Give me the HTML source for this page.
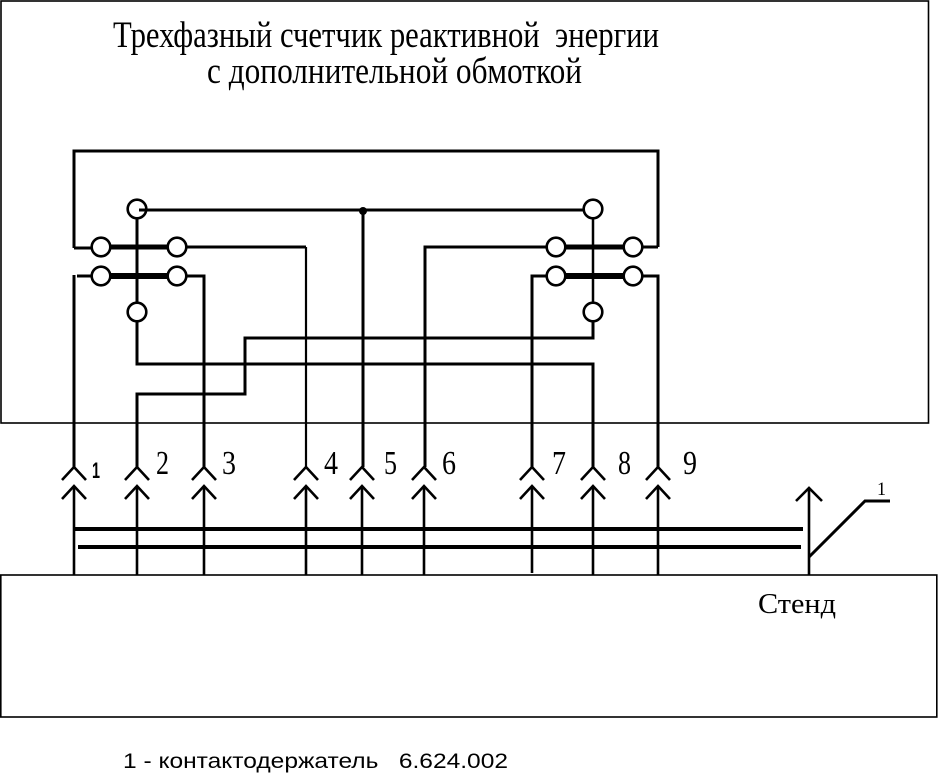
<!DOCTYPE html>
<html><head><meta charset="utf-8"><style>
html,body{margin:0;padding:0;background:#fff;}
svg{display:block;}
text{white-space:pre;}
</style></head><body>
<svg width="938" height="775" viewBox="0 0 938 775" xmlns="http://www.w3.org/2000/svg">
<rect x="0" y="0" width="938" height="775" fill="#fff"/>
<!-- top box -->
<rect x="1" y="1" width="927.5" height="422" fill="none" stroke="#000" stroke-width="1.6"/>
<!-- bottom stand box -->
<rect x="0.8" y="575" width="936" height="142" fill="none" stroke="#000" stroke-width="1.6"/>

<g font-family="'Liberation Serif', 'Noto Serif CJK SC', serif" fill="#000">
<text x="113" y="47" font-size="37" textLength="546" lengthAdjust="spacingAndGlyphs">Трехфазный счетчик реактивной  энергии</text>
<text x="207" y="83" font-size="37" textLength="375" lengthAdjust="spacingAndGlyphs">с дополнительной обмоткой</text>
<text x="156" y="474" font-size="34" textLength="13" lengthAdjust="spacingAndGlyphs">2</text>
<text x="222" y="474" font-size="34" textLength="14" lengthAdjust="spacingAndGlyphs">3</text>
<text x="324" y="474" font-size="34" textLength="14" lengthAdjust="spacingAndGlyphs">4</text>
<text x="384" y="474" font-size="34" textLength="13" lengthAdjust="spacingAndGlyphs">5</text>
<text x="442" y="474" font-size="34" textLength="14" lengthAdjust="spacingAndGlyphs">6</text>
<text x="552" y="474" font-size="34" textLength="14" lengthAdjust="spacingAndGlyphs">7</text>
<text x="618" y="474" font-size="34" textLength="13" lengthAdjust="spacingAndGlyphs">8</text>
<text x="683" y="474" font-size="34" textLength="14" lengthAdjust="spacingAndGlyphs">9</text>
<text x="877" y="495" font-size="19" textLength="9" lengthAdjust="spacingAndGlyphs">1</text>
<text x="758" y="613" font-size="29" textLength="78" lengthAdjust="spacingAndGlyphs">Стенд</text>
</g>
<g font-family="'Liberation Sans', 'Noto Sans CJK SC', sans-serif" fill="#000">
<text x="92" y="478" font-size="22" font-weight="bold" textLength="8" lengthAdjust="spacingAndGlyphs">1</text>
<text x="123" y="768" font-size="21" textLength="385" lengthAdjust="spacingAndGlyphs">1 - контактодержатель   6.624.002</text>
</g>

<g fill="none" stroke="#000" stroke-width="3" stroke-linecap="butt" stroke-linejoin="miter">
<!-- outer loop -->
<polyline points="74,248 74,151 658,151 658,247"/>
<line x1="74" y1="248" x2="92" y2="248"/>
<line x1="642" y1="247" x2="658" y2="247"/>
<!-- left cluster wiring -->
<line x1="137" y1="218" x2="137" y2="303"/>
<line x1="139" y1="210" x2="583" y2="210"/>
<line x1="363" y1="210" x2="363" y2="467"/>
<line x1="77" y1="276" x2="92" y2="276"/>
<line x1="74" y1="275" x2="74" y2="467"/>
<polyline points="186,276 204,276 204,467"/>
<polyline points="186,247 306,247"/>
<polyline points="137,321 137,364 593,364 593,467"/>
<polyline points="137,467 137,394 245,394 245,338 593,338 593,321"/>
<!-- right cluster wiring -->
<polyline points="547,247 425,247 425,467"/>
<polyline points="547,276 532,276 532,467"/>
<polyline points="642,276 658,276 658,467"/>
</g>
<line x1="306" y1="247" x2="306" y2="467" stroke="#000" stroke-width="2.2"/>
<line x1="593" y1="218" x2="593" y2="304" stroke="#000" stroke-width="2.5"/>
<!-- bars -->
<g stroke="#000">
<line x1="109" y1="247" x2="169" y2="247" stroke-width="5"/>
<line x1="109" y1="276" x2="169" y2="276" stroke-width="6"/>
<line x1="565" y1="247" x2="624" y2="247" stroke-width="5"/>
<line x1="565" y1="276" x2="624" y2="276" stroke-width="6"/>
</g>
<!-- circles -->
<g fill="#fff" stroke="#000" stroke-width="2.6">
<circle cx="137" cy="209" r="9.3"/>
<circle cx="101" cy="247" r="9.3"/>
<circle cx="177" cy="247" r="9.3"/>
<circle cx="101" cy="276" r="9.3"/>
<circle cx="177" cy="276" r="9.3"/>
<circle cx="137" cy="312" r="9.3"/>
<circle cx="593" cy="209" r="9.3"/>
<circle cx="556" cy="247" r="9.3"/>
<circle cx="633" cy="247" r="9.3"/>
<circle cx="556" cy="276" r="9.3"/>
<circle cx="633" cy="276" r="9.3"/>
<circle cx="593" cy="312" r="9.3"/>
</g>
<line x1="139" y1="210" x2="147" y2="210" stroke="#000" stroke-width="3"/>
<circle cx="363" cy="211" r="4" fill="#000"/>

<!-- terminals -->
<g fill="none" stroke="#000" stroke-width="2.6">
<polyline points="62,480 74,467 86,480"/><polyline points="62,499 74,486 86,499"/><line x1="74" y1="486" x2="74" y2="575"/>
<polyline points="125,480 137,467 149,480"/><polyline points="125,499 137,486 149,499"/><line x1="137" y1="486" x2="137" y2="575"/>
<polyline points="192,480 204,467 216,480"/><polyline points="192,499 204,486 216,499"/><line x1="204" y1="486" x2="204" y2="575"/>
<polyline points="294,480 306,467 318,480"/><polyline points="294,499 306,486 318,499"/><line x1="306" y1="486" x2="306" y2="575"/>
<polyline points="350,480 362,467 374,480"/><polyline points="350,499 362,486 374,499"/><line x1="362" y1="486" x2="362" y2="575"/>
<polyline points="412,480 424,467 436,480"/><polyline points="412,499 424,486 436,499"/><line x1="424" y1="486" x2="424" y2="575"/>
<polyline points="520,480 532,467 544,480"/><polyline points="520,499 532,486 544,499"/><line x1="532" y1="486" x2="532" y2="573"/>
<polyline points="581,480 593,467 605,480"/><polyline points="581,499 593,486 605,499"/><line x1="593" y1="486" x2="593" y2="575"/>
<polyline points="646,480 658,467 670,480"/><polyline points="646,499 658,486 670,499"/><line x1="658" y1="486" x2="658" y2="575"/>
<!-- right connector -->
<polyline points="796,501 809,488 822,501"/><line x1="809" y1="488" x2="809" y2="575"/>
</g>
<polyline points="809,557 865,501 890,501" fill="none" stroke="#000" stroke-width="3"/>
<!-- bus lines -->
<line x1="74" y1="529" x2="803" y2="529" stroke="#000" stroke-width="4"/>
<line x1="78" y1="547" x2="801" y2="547" stroke="#000" stroke-width="4"/>
</svg>
</body></html>
